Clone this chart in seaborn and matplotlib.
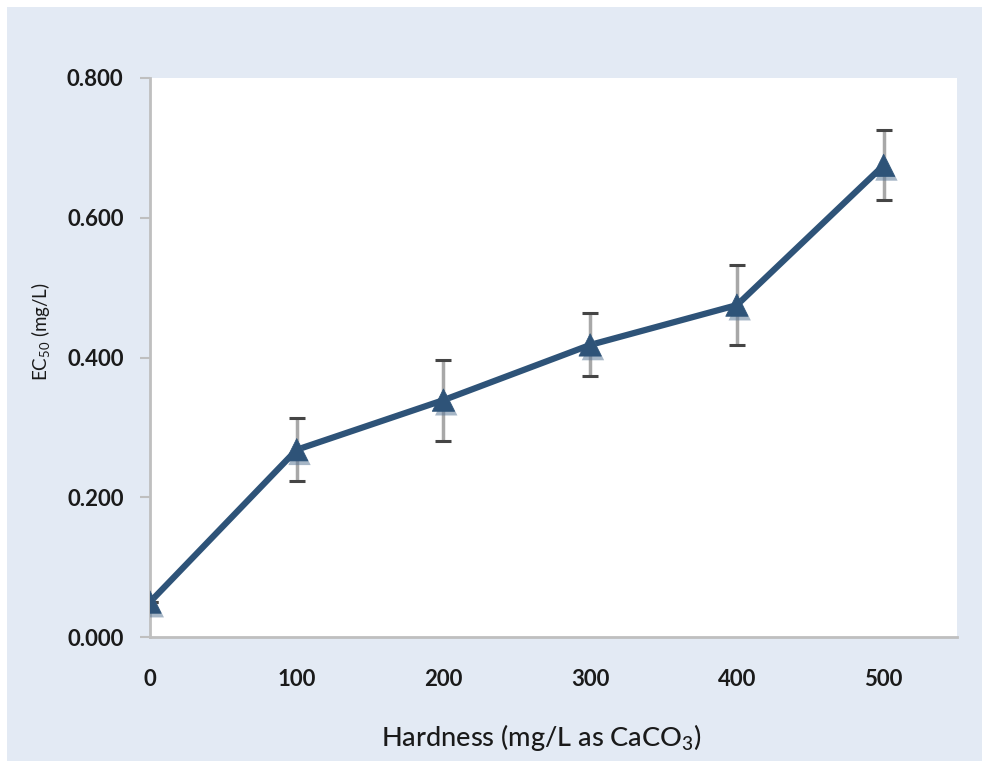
import matplotlib
matplotlib.use("Agg")
import matplotlib.pyplot as plt
import matplotlib.patches as mpatches
import matplotlib.patheffects as pe
import numpy as np
import pandas as pd
import seaborn as sns

# Hardness series and measured EC50 with standard deviation
hardness = [0, 100, 200, 300, 400, 500]
ec50 = [0.050, 0.268, 0.339, 0.418, 0.475, 0.675]
ec50_err = [0.000, 0.045, 0.058, 0.045, 0.057, 0.050]

y_ticks = [0.0, 0.2, 0.4, 0.6, 0.8]
x_ticks = [0, 100, 200, 300, 400, 500]

sns.set_theme(style="white")
plt.rcParams["font.family"] = ["Lato", "DejaVu Sans"]
plt.rcParams["mathtext.default"] = "regular"

df = pd.DataFrame({"hardness": hardness, "ec50": ec50, "err": ec50_err})

fig = plt.figure(figsize=(9.82, 7.61), dpi=100, facecolor="white")
# light blue chart-area panel
fig.patches.append(mpatches.Rectangle((7 / 982, 0), 1, 1 - 7 / 761,
                                      transform=fig.transFigure,
                                      facecolor="#e3eaf4", edgecolor="none",
                                      zorder=-10))
ax = fig.add_axes([150 / 982, 1 - 637 / 761, (957 - 150) / 982, (637 - 78) / 761])
ax.set_facecolor("white")

line_color = "#2e5378"

# error bars: grey stems with dark caps
eb = ax.errorbar(df["hardness"], df["ec50"], yerr=df["err"], fmt="none",
                 ecolor="#a8a8a8", elinewidth=2.5, capsize=6, capthick=2.2,
                 zorder=2)
for cap in eb[1]:
    cap.set_markeredgecolor("#454545")

# connecting line
sns.lineplot(data=df, x="hardness", y="ec50", ax=ax, color=line_color,
             linewidth=4.5, zorder=3, legend=False)

# triangle markers with a soft drop shadow
sns.scatterplot(data=df, x="hardness", y="ec50", ax=ax, marker="^", s=260,
                color=line_color, edgecolor=line_color, linewidth=0.5,
                zorder=4, legend=False)
ax.collections[-1].set_path_effects([
    pe.SimplePatchShadow(offset=(2, -3), shadow_rgbFace="#5e7a98", alpha=0.55),
    pe.Normal()])

ax.set_xlim(0, 550)
ax.set_ylim(0, 0.8)
ax.set_xticks(x_ticks)
ax.set_xticklabels([str(v) for v in x_ticks], fontsize=16, fontweight="bold", color="#1a1a1a")
ax.set_yticks(y_ticks)
ax.set_yticklabels([f"{v:.3f}" for v in y_ticks], fontsize=16, fontweight="bold", color="#1a1a1a")

ax.tick_params(axis="y", which="both", direction="out", length=7, width=1.5,
               color="#bfbfbf", pad=12, left=True)
ax.tick_params(axis="x", which="both", length=0, pad=23, bottom=False)

for side in ["top", "right"]:
    ax.spines[side].set_visible(False)
for side in ["left", "bottom"]:
    ax.spines[side].set_color("#bfbfbf")
    ax.spines[side].set_linewidth(2)

ax.set_xlabel("Hardness (mg/L as CaCO$_3$)", fontsize=19.5, fontweight="medium",
              color="#1a1a1a")
ax.set_ylabel("EC$_{50}$ (mg/L)", fontsize=13.5, color="#1a1a1a")
ax.xaxis.set_label_coords(0.485, -0.179)
ax.yaxis.set_label_coords(-0.136, 0.547)
ax.xaxis.label.set_va("center")
ax.yaxis.label.set_va("center")

fig.savefig("out.png", dpi=100, facecolor=fig.get_facecolor())
